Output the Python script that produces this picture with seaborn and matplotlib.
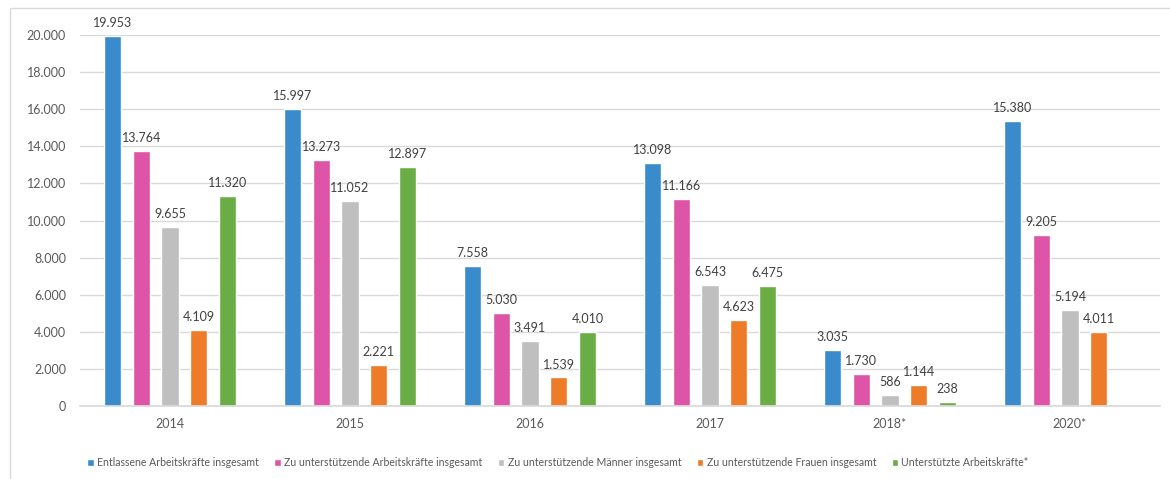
import numpy as np
import pandas as pd
import seaborn as sns
import matplotlib.pyplot as plt
from matplotlib.patches import Rectangle

sns.set_theme(style="white")
plt.rcParams['font.family'] = ['Lato', 'DejaVu Sans']

years = ["2014", "2015", "2016", "2017", "2018*", "2020*"]
series = [
    "Entlassene Arbeitskräfte insgesamt",
    "Zu unterstützende Arbeitskräfte insgesamt",
    "Zu unterstützende Männer insgesamt",
    "Zu unterstützende Frauen insgesamt",
    "Unterstützte Arbeitskräfte*",
]
entlassene = [19953, 15997, 7558, 13098, 3035, 15380]
zu_unterstuetzen = [13764, 13273, 5030, 11166, 1730, 9205]
maenner = [9655, 11052, 3491, 6543, 586, 5194]
frauen = [4109, 2221, 1539, 4623, 1144, 4011]
unterstuetzt = [11320, 12897, 4010, 6475, 238, np.nan]
colors = ["#3a8bcb", "#de54a6", "#bfbfbf", "#ee7b27", "#6aad45"]

rows = []
for name, vals in zip(series, [entlassene, zu_unterstuetzen, maenner, frauen, unterstuetzt]):
    for y, v in zip(years, vals):
        rows.append({"Jahr": y, "Reihe": name, "Wert": v})
df = pd.DataFrame(rows)


def de_fmt(v):
    return f"{int(round(v)):,}".replace(",", ".")


fig = plt.figure(figsize=(11.7, 4.79), dpi=100)
ax = fig.add_axes([80 / 1170, 1 - 406 / 479, 1080 / 1170, 371 / 479])

sns.barplot(data=df, x="Jahr", y="Wert", hue="Reihe", order=years, hue_order=series,
            palette=colors, width=0.8, gap=0.4, ax=ax, legend=True, saturation=1)

for cont in ax.containers:
    ax.bar_label(cont, labels=[de_fmt(v) for v in cont.datavalues], padding=5,
                 fontsize=9, color="#404040", clip_on=False)

ax.set_ylim(0, 20000)
ax.set_xlim(-0.5, 5.5)
ax.set_yticks(range(0, 20001, 2000))
ax.set_yticklabels([de_fmt(v) for v in range(0, 20001, 2000)])
ax.yaxis.grid(True, color="#d9d9d9", linewidth=1)
ax.set_axisbelow(True)
ax.tick_params(axis="both", length=0, labelsize=9, colors="#595959")
ax.tick_params(axis="x", pad=9)
ax.tick_params(axis="y", pad=10)
ax.set_xlabel("")
ax.set_ylabel("")
for s in ["top", "right", "left"]:
    ax.spines[s].set_visible(False)
ax.spines["bottom"].set_color("#d9d9d9")

handles, labels = ax.get_legend_handles_labels()
ax.get_legend().remove()
fig.legend(handles, labels, loc="center", bbox_to_anchor=(558 / 1170, 1 - 463 / 479), ncol=5,
           frameon=False, fontsize=7.6, labelcolor="#595959", handlelength=0.6,
           handleheight=0.6, handletextpad=0.3, columnspacing=1.5)

fig.patches.append(Rectangle((10 / 1170, -0.1), 1.2, 1.1 - 8 / 479,
                             transform=fig.transFigure, fill=False,
                             edgecolor="#d9d9d9", linewidth=1))

fig.savefig("out.png", dpi=100)
